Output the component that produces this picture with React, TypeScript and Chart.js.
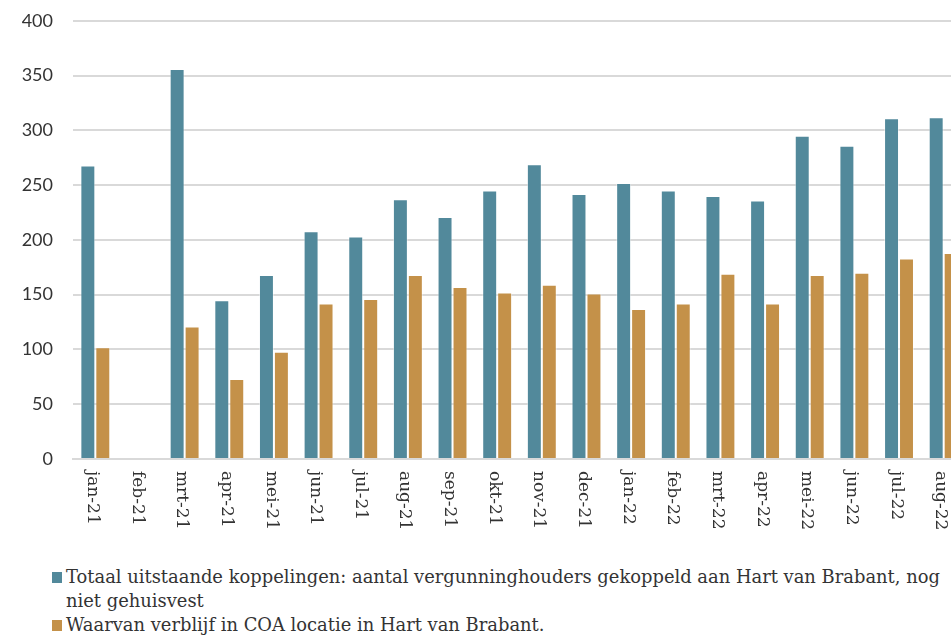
import React, { useEffect, useRef } from "react";
import { Chart, registerables } from "chart.js";

Chart.register(...registerables);

const categories = [
  "jan-21", "feb-21", "mrt-21", "apr-21", "mei-21", "jun-21", "jul-21", "aug-21", "sep-21", "okt-21",
  "nov-21", "dec-21", "jan-22", "feb-22", "mrt-22", "apr-22", "mei-22", "jun-22", "jul-22", "aug-22",
];
const totaalValues = [268, null, 356, 145, 168, 208, 203, 237, 221, 245, 269, 242, 252, 245, 240, 236, 295, 286, 311, 312];
const coaValues = [102, null, 121, 73, 98, 142, 146, 168, 157, 152, 159, 151, 137, 142, 169, 142, 168, 170, 183, 188];
const seriesNames = [
  "Totaal uitstaande koppelingen: aantal vergunninghouders gekoppeld aan Hart van Brabant, nog niet gehuisvest",
  "Waarvan verblijf in COA locatie in Hart van Brabant.",
];
const seriesColors = ["#52899b", "#c49149"];
const yTicks = [0, 50, 100, 150, 200, 250, 300, 350, 400];

const rotatedLabels = {
  id: "rotatedLabels",
  afterDraw(chart: any) {
    const xs = chart.scales.x;
    const ctx = chart.ctx;
    ctx.save();
    ctx.font = "17px 'DejaVu Serif'";
    ctx.fillStyle = "#333333";
    ctx.textAlign = "left";
    ctx.textBaseline = "middle";
    categories.forEach((lab, i) => {
      const x = xs.getPixelForValue(i);
      ctx.save();
      ctx.translate(x - 3, xs.top + 12);
      ctx.rotate(Math.PI / 2);
      ctx.fillText(lab, 0, 0);
      ctx.restore();
    });
    ctx.restore();
  },
};

export default function App() {
  const ref = useRef<HTMLCanvasElement>(null);
  useEffect(() => {
    document.body.style.margin = "0";
    const chart = new Chart(ref.current!, {
      type: "bar",
      data: {
        labels: categories,
        datasets: [
          {
            label: seriesNames[0],
            data: totaalValues,
            backgroundColor: seriesColors[0],
            borderColor: "rgba(255,255,255,0.45)",
            borderWidth: 1,
            categoryPercentage: 0.67,
            barPercentage: 1,
          },
          {
            label: seriesNames[1],
            data: coaValues,
            backgroundColor: seriesColors[1],
            borderColor: "rgba(255,255,255,0.45)",
            borderWidth: 1,
            categoryPercentage: 0.67,
            barPercentage: 1,
          },
        ],
      },
      options: {
        animation: false,
        responsive: false,
        maintainAspectRatio: false,
        layout: { padding: { top: 0, bottom: 0, left: 0, right: 0 } },
        plugins: { legend: { display: false }, tooltip: { enabled: false }, title: { display: false } },
        scales: {
          x: {
            grid: { display: false },
            border: { display: true, color: "#d9d9d9", width: 2 },
            ticks: { display: false },
            afterFit: (s: any) => { s.height = 80; },
          },
          y: {
            min: 0,
            max: 400,
            afterBuildTicks: (s: any) => { s.ticks = yTicks.map((v) => ({ value: v })); },
            afterFit: (s: any) => { s.width = 73; },
            grid: { color: "#d9d9d9", lineWidth: 2, drawTicks: false },
            border: { display: false },
            ticks: {
              padding: 20,
              color: "#333333",
              font: { family: "Lato", size: 18 },
            },
          },
        },
      },
      plugins: [rotatedLabels],
    });
    return () => chart.destroy();
  }, []);

  return (
    <div style={{ position: "fixed", left: 0, top: 0, width: "100vw", height: "100vh", overflow: "hidden", background: "#fff" }}>
      <canvas ref={ref} width={966} height={549} style={{ position: "absolute", left: 0, top: -10, width: 966, height: 549 }} />
      <div
        style={{
          position: "absolute",
          left: 52,
          top: 565,
          width: 896,
          fontFamily: "'DejaVu Serif', serif",
          fontSize: 17.9,
          lineHeight: "24px",
          color: "#333333",
        }}
      >
        {seriesNames.map((name, i) => (
          <div key={i} style={{ display: "flex", alignItems: "flex-start" }}>
            <span style={{ display: "inline-block", width: 10, height: 11, background: seriesColors[i], marginTop: 7, marginRight: 4, flex: "none" }} />
            <span>{name}</span>
          </div>
        ))}
      </div>
    </div>
  );
}
